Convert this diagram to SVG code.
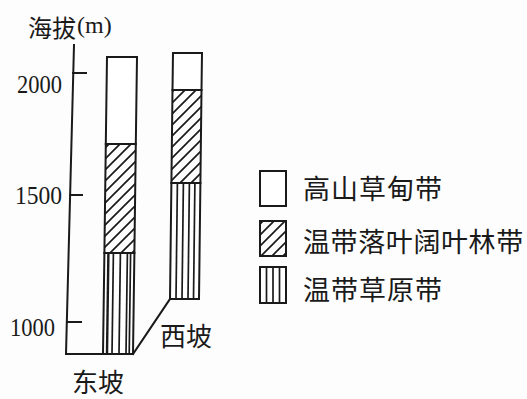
<svg xmlns="http://www.w3.org/2000/svg" width="527" height="399" viewBox="0 0 527 399">
<style>
.bg{fill:#fdfdfd}
.ln{stroke:#1a1a1a;stroke-width:2;fill:none;stroke-linecap:square}
.box{stroke:#1a1a1a;stroke-width:2;fill:#fff}
.hat{stroke:#1a1a1a;stroke-width:2;fill:url(#hatch)}
.st{stroke:#1a1a1a;stroke-width:1.7}
.cjk{font-family:"Noto Sans CJK SC","Noto Sans",sans-serif;fill:#1a1a1a;dominant-baseline:central}
.num{font-family:"Liberation Serif","DejaVu Serif",serif;fill:#1a1a1a;dominant-baseline:central}
</style>
<defs>
<pattern id="hatch" patternUnits="userSpaceOnUse" width="11" height="11">
<path d="M0,11 L11,0 M-2,2 L2,-2 M9,13 L13,9" stroke="#1a1a1a" stroke-width="1.7"/>
</pattern>
</defs>
<rect class="bg" x="0" y="0" width="527" height="399"/>

<g id="axis">
<text class="cjk" x="28" y="26" font-size="24">海拔</text>
<text class="num" x="77" y="25" font-size="24">(m)</text>
<path class="ln" d="M74,45 L66,354 L133,354"/>
<path class="ln" d="M73,73 L86,73 M70,195 L82,195 M68,322 L81,322"/>
<text class="num" x="17" y="84" font-size="26" textLength="45" lengthAdjust="spacingAndGlyphs">2000</text>
<text class="num" x="15" y="195" font-size="26" textLength="47" lengthAdjust="spacingAndGlyphs">1500</text>
<text class="num" x="10" y="327" font-size="26" textLength="45" lengthAdjust="spacingAndGlyphs">1000</text>
</g>

<g id="east-slope">
<polygon class="box" points="107,57 137,57 135.8,144 105.8,144"/>
<polygon class="hat" points="105.8,144 135.8,144 134.4,253 104.4,253"/>
<polygon class="box" points="104.4,253 134.4,253 133,354 103,354"/>
<g class="st">
<line x1="108.4" y1="253" x2="107" y2="354" stroke-width="2.4"/>
<line x1="113.4" y1="253" x2="112" y2="354"/>
<line x1="120.4" y1="253" x2="119" y2="354"/>
<line x1="127.4" y1="253" x2="126" y2="354"/>
<line x1="130.6" y1="253" x2="129.2" y2="354"/>
</g>
<text class="cjk" x="72" y="380" font-size="26">东坡</text>
</g>

<g id="west-slope">
<polygon class="box" points="173,53 202,53 201.5,90 172.5,90"/>
<polygon class="hat" points="172.5,90 201.5,90 200.4,183 171.4,183"/>
<polygon class="box" points="171.4,183 200.4,183 199,299 170,299"/>
<g class="st">
<line x1="177.4" y1="183" x2="176" y2="299"/>
<line x1="183.4" y1="183" x2="182" y2="299"/>
<line x1="189.4" y1="183" x2="188" y2="299"/>
<line x1="194.9" y1="183" x2="193.5" y2="299"/>
</g>
<text class="cjk" x="160" y="334" font-size="26">西坡</text>
</g>

<g id="connectors">
<line class="ln" x1="133" y1="354" x2="170" y2="299"/>
</g>

<g id="legend-alpine-meadow">
<rect class="box" x="260" y="171" width="26" height="35"/>
<text class="cjk" x="303" y="187" font-size="27" letter-spacing="1">高山草甸带</text>
</g>
<g id="legend-broadleaf-forest">
<rect class="hat" x="260" y="221" width="26" height="35"/>
<text class="cjk" x="303" y="240" font-size="27" letter-spacing="0.6">温带落叶阔叶林带</text>
</g>
<g id="legend-steppe">
<rect class="box" x="260" y="267" width="26" height="36"/>
<g class="st">
<line x1="266.5" y1="267" x2="266.5" y2="303"/>
<line x1="273" y1="267" x2="273" y2="303"/>
<line x1="279.5" y1="267" x2="279.5" y2="303"/>
</g>
<text class="cjk" x="303" y="288" font-size="27" letter-spacing="1">温带草原带</text>
</g>
</svg>
